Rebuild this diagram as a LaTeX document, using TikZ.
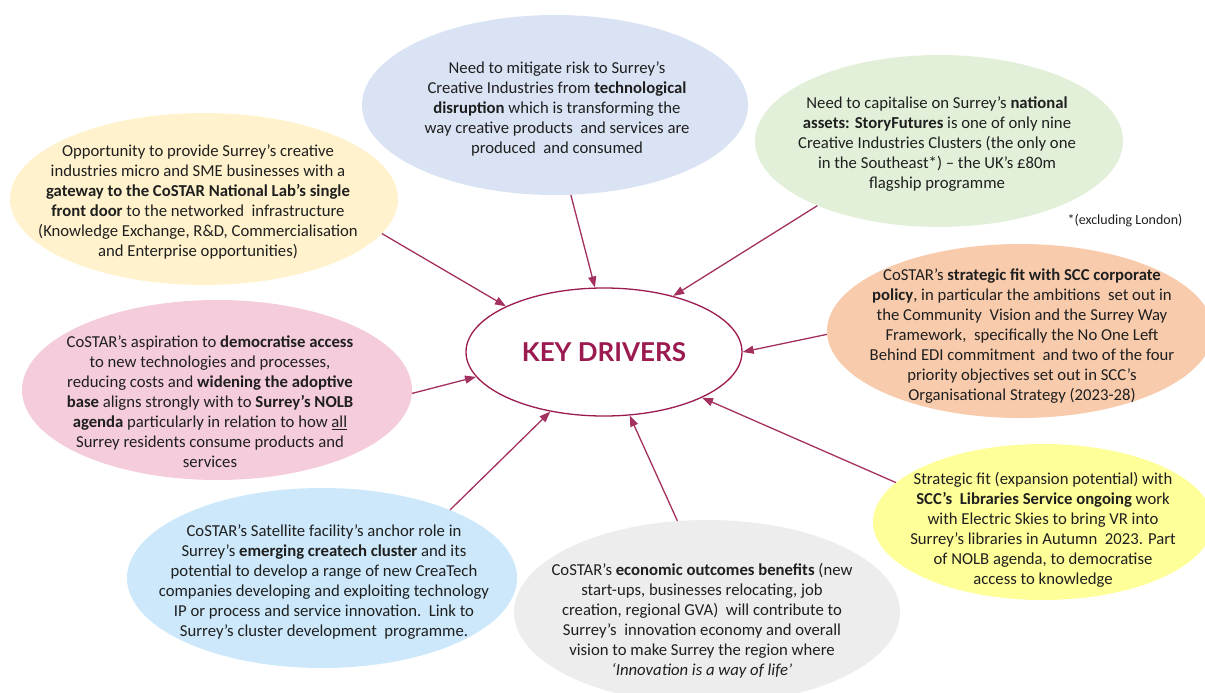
\documentclass[tikz,border=0pt]{standalone}
\usepackage{fontspec}
\setmainfont{Carlito}
\newfontfamily\keyfont{Lato}
\usetikzlibrary{shapes.geometric,arrows.meta}

\definecolor{crimson}{HTML}{9B1B50}
\definecolor{linkc}{HTML}{A3305F}
\definecolor{cream}{HTML}{FFF2CC}
\definecolor{slate}{HTML}{DAE3F3}
\definecolor{mint}{HTML}{E2F0D9}
\definecolor{peach}{HTML}{F8CBAD}
\definecolor{rose}{HTML}{F4CCDC}
\definecolor{lemon}{HTML}{FFFF99}
\definecolor{sky}{HTML}{CCE8FA}
\definecolor{mist}{HTML}{EDEDED}

\begin{document}
\begin{tikzpicture}[x=1pt,y=-1pt,
  blob/.style={ellipse, draw=none, inner sep=0pt, fill=#1},
  txt/.style={align=center, inner sep=0pt, text=black!88,
              font=\fontsize{16.7}{20}\selectfont},
  link/.style={draw=linkc, line width=1.3pt,
               -{Triangle[length=11pt,width=8pt]}}]
\useasboundingbox (0,0) rectangle (1205,693);

% central ellipse
\node[ellipse, draw=crimson, line width=1.3pt, fill=white,
      minimum width=276pt, minimum height=128pt, inner sep=0pt]
  (key) at (604,352) {};
\node[text=crimson, font=\keyfont\bfseries\fontsize{26}{30}\selectfont]
  (keylabel) at (604,352) {KEY DRIVERS};

% surrounding drivers
\node[blob=cream, minimum width=388pt, minimum height=172pt] (e1) at (204,199) {};
\node[txt] (t1) at (198,202) {Opportunity to provide Surrey’s creative\\
industries micro and SME businesses with a\\
\textbf{gateway to the CoSTAR National Lab’s single}\\
\textbf{front door} to the networked\ \ infrastructure\\
(Knowledge Exchange, R\&D, Commercialisation\\
and Enterprise opportunities)};

\node[blob=slate, minimum width=386pt, minimum height=180pt] (e2) at (555,105) {};
\node[txt] (t2) at (557,109) {Need to mitigate risk to Surrey’s\\
Creative Industries from \textbf{technological}\\
\textbf{disruption} which is transforming the\\
way creative products\ \ and services are\\
produced\ \ and consumed};

\node[blob=mint, minimum width=368pt, minimum height=172pt] (e3) at (939,141) {};
\node[txt] (t3) at (937,144) {Need to capitalise on Surrey’s \textbf{national}\\
\textbf{assets: StoryFutures} is one of only nine\\
Creative Industries Clusters (the only one\\
in the Southeast*) – the UK’s £80m\\
flagship programme};
\node[inner sep=0pt, text=black!88, font=\fontsize{14}{16}\selectfont]
  (note) at (1125,221) {*(excluding London)};

\node[blob=peach, minimum width=386pt, minimum height=174pt] (e4) at (1020,331) {};
\node[txt] (t4) at (1022,336) {CoSTAR’s \textbf{strategic fit with SCC corporate}\\
\textbf{policy}, in particular the ambitions\ \ set out in\\
the Community\ \ Vision and the Surrey Way\\
Framework,\ \ specifically the No One Left\\
Behind EDI commitment\ \ and two of the four\\
priority objectives set out in SCC’s\\
Organisational Strategy (2023-28)};

\node[blob=rose, minimum width=390pt, minimum height=180pt] (e5) at (217,390) {};
\node[txt] (t5) at (210,402) {CoSTAR’s aspiration to \textbf{democratise access}\\
to new technologies and processes,\\
reducing costs and \textbf{widening the adoptive}\\
\textbf{base} aligns strongly with to \textbf{Surrey’s NOLB}\\
\textbf{agenda} particularly in relation to how \underline{all}\\
Surrey residents consume products and\\
services};

\node[blob=lemon, minimum width=340pt, minimum height=156pt] (e6) at (1043,522) {};
\node[txt] (t6) at (1043,530) {Strategic fit (expansion potential) with\\
\textbf{SCC’s\ \ Libraries Service ongoing} work\\
with Electric Skies to bring VR into\\
Surrey’s libraries in Autumn\ \ 2023. Part\\
of NOLB agenda, to democratise\\
access to knowledge};

\node[blob=sky, minimum width=390pt, minimum height=180pt] (e7) at (322,578) {};
\node[txt] (t7) at (324,582) {CoSTAR’s Satellite facility’s anchor role in\\
Surrey’s \textbf{emerging createch cluster} and its\\
potential to develop a range of new CreaTech\\
companies developing and exploiting technology\\
IP or process and service innovation.\ \ Link to\\
Surrey’s cluster development\ \ programme.};

\node[blob=mist, minimum width=386pt, minimum height=184pt] (e8) at (707,612) {};
\node[txt] (t8) at (702,621) {CoSTAR’s \textbf{economic outcomes benefits} (new\\
start-ups, businesses relocating, job\\
creation, regional GVA)\ \ will contribute to\\
Surrey’s\ \ innovation economy and overall\\
vision to make Surrey the region where\\
\textit{‘Innovation is a way of life’}};

% connectors into the central ellipse
\draw[link] (e1.-11)  -- (key.155);
\draw[link] (e2.-80)  -- (key.98);
\draw[link] (e3.208)  -- (key.39);
\draw[link] (e4.181)  -- (key.0);
\draw[link] (e6.165)  -- (key.-25);
\draw[link] (e8.108)  -- (key.-68);
\draw[link] (e7.28)   -- (key.-132);
\draw[link] (e5.-1)   -- (key.-169);
\end{tikzpicture}
\end{document}
